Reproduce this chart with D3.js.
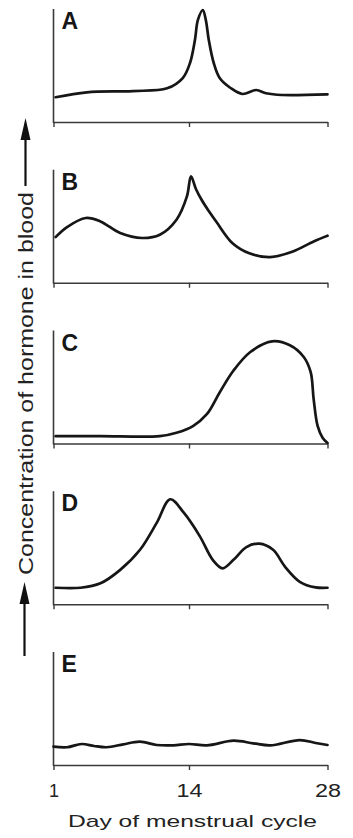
<!DOCTYPE html>
<html><head><meta charset="utf-8">
<script src="https://cdn.jsdelivr.net/npm/d3@7"></script>
<style>body{margin:0;background:#fff}svg{display:block}</style>
</head><body><svg id="c" width="353" height="838"></svg>
<script>
// ---- data ----
const panelLabels = ["A", "B", "C", "D", "E"];
const tickDays = [1, 14, 28];
const xTitle = "Day of menstrual cycle";
const yTitle = "Concentration of hormone in blood";

const dayA   = [1.2, 4.2, 8.6, 11.9, 13.4, 14.1, 14.6, 14.9, 15.4, 15.7, 16.0, 16.5, 17.1, 18.2, 19.4, 20.8, 21.8, 23.4, 28];
const levelA = [21.9, 26.3, 27.4, 29.8, 38.9, 52.2, 72.6, 90.3, 99.1, 90.3, 72.6, 52.2, 38.9, 30.1, 24.8, 28.3, 25.4, 23.9, 24.5];

const dayB   = [1.2, 2.3, 4.1, 5.5, 7.4, 9.5, 11.2, 12.8, 13.8, 14.2, 14.7, 15.3, 16.0, 16.8, 18.4, 20.1, 22.2, 24.5, 26.6, 28];
const levelB = [40.4, 49.3, 57.3, 54.3, 44.0, 39.6, 42.5, 55.8, 76.4, 94.1, 83.0, 73.0, 63.5, 53.5, 35.0, 26.1, 22.7, 27.7, 36.6, 41.6];

const dayC   = [1.2, 5.5, 11.2, 12.8, 14.4, 15.8, 17.1, 18.5, 20.2, 22.4, 24.2, 25.6, 26.3, 26.6, 27.0, 27.5, 28];
const levelC = [6.5, 6.5, 6.5, 9.5, 15.4, 25.9, 45.2, 64.6, 81.0, 90.4, 86.9, 76.5, 63.1, 39.3, 15.5, 5.1, 0.5];

const dayD   = [1.2, 3.6, 5.5, 7.4, 9.3, 10.9, 12.2, 13.5, 15.1, 16.4, 17.4, 18.5, 19.8, 21.1, 22.5, 23.7, 25.2, 26.8, 28];
const levelD = [14.6, 14.6, 18.5, 30.4, 48.2, 72.0, 92.9, 81.0, 60.1, 39.3, 31.8, 39.3, 50.6, 53.6, 48.2, 33.3, 19.9, 14.9, 14.6];

const dayE   = [1.0, 2.3, 3.7, 4.9, 6.1, 7.7, 9.3, 10.9, 12.5, 14.0, 15.8, 18.5, 20.5, 22.2, 25.2, 26.8, 28];
const levelE = [16.2, 15.7, 18.6, 16.8, 15.7, 18.3, 20.6, 17.7, 17.4, 18.6, 17.4, 21.5, 19.2, 17.4, 22.1, 19.5, 17.7];

const series = [
  {label: panelLabels[0], days: dayA, levels: levelA},
  {label: panelLabels[1], days: dayB, levels: levelB},
  {label: panelLabels[2], days: dayC, levels: levelC},
  {label: panelLabels[3], days: dayD, levels: levelD},
  {label: panelLabels[4], days: dayE, levels: levelE}
];

// ---- layout ----
const svg = d3.select("#c");
const x = d3.scaleLinear().domain([1, 14, 28]).range([53.5, 189, 327.5]);
const panelH = 113, firstAxisY = 122, step = 160.75;
const ink = "#161616", axisInk = "#3a3a3a";
const font = "'Liberation Sans', Arial, Helvetica, sans-serif";

series.forEach((s, i) => {
  const base = firstAxisY + i * step;
  const y = d3.scaleLinear().domain([0, 100]).range([base, base - panelH]);
  const g = svg.append("g");

  // x axis
  const ax = d3.axisBottom(x).tickValues(tickDays).tickSize(5).tickSizeOuter(0).tickPadding(14)
    .tickFormat(i === series.length - 1 ? d3.format("d") : () => "");
  const axg = g.append("g").attr("transform", `translate(0,${base})`).call(ax);
  axg.select(".domain").attr("stroke", axisInk).attr("stroke-width", 1.6);
  axg.selectAll(".tick line").attr("stroke", axisInk).attr("stroke-width", 1.4);
  axg.selectAll(".tick text").attr("fill", "#222").attr("font-family", font).attr("font-size", 18)
    .each(function(d) { if (String(d).length > 1) d3.select(this).attr("textLength", 26).attr("lengthAdjust", "spacingAndGlyphs"); });

  // y axis line
  g.append("line").attr("x1", x(1)).attr("x2", x(1)).attr("y1", y(100)).attr("y2", base + 1)
    .attr("stroke", axisInk).attr("stroke-width", 1.6);

  // curve
  g.append("path").datum(d3.zip(s.days, s.levels))
    .attr("d", d3.line().x(d => x(d[0])).y(d => y(d[1])).curve(d3.curveCatmullRom.alpha(0.5)))
    .attr("fill", "none").attr("stroke", ink).attr("stroke-width", 2.7)
    .attr("stroke-linejoin", "round").attr("stroke-linecap", "round");

  // panel letter
  g.append("text").attr("x", 61.5).attr("y", y(100) + 20).text(s.label)
    .attr("font-family", font).attr("font-weight", "bold").attr("font-size", 23).attr("fill", ink);
});

// x title
svg.append("text").attr("x", 192.5).attr("y", 827).attr("text-anchor", "middle")
  .attr("font-family", font).attr("font-size", 17).attr("fill", "#222")
  .attr("textLength", 249).attr("lengthAdjust", "spacingAndGlyphs").text(xTitle);

// y title (rotated) with arrows
const yMid = 383.5;
svg.append("text").attr("transform", `translate(32.5,${yMid}) rotate(-90)`).attr("text-anchor", "middle")
  .attr("font-family", font).attr("font-size", 20).attr("fill", "#222")
  .attr("textLength", 383).attr("lengthAdjust", "spacingAndGlyphs").text(yTitle);

function arrow(cx, tipY, tailY) {
  svg.append("line").attr("x1", cx).attr("x2", cx).attr("y1", tipY + 10).attr("y2", tailY)
    .attr("stroke", "#111").attr("stroke-width", 2.2);
  svg.append("path").attr("d", `M${cx},${tipY} L${cx - 5},${tipY + 22} L${cx + 5},${tipY + 22} Z`).attr("fill", "#111");
}
arrow(25.5, 118, 186);
arrow(24.5, 582, 656);
</script>
</body></html>
